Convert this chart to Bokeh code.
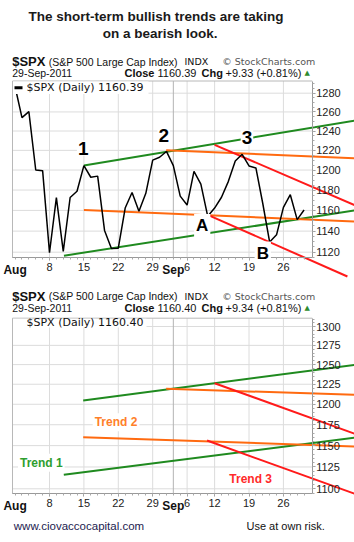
import math
from bokeh.plotting import figure
from bokeh.models import Range1d, LogScale, LinearAxis, FixedTicker, Label, AllLabels
from bokeh.core.properties import value
from bokeh.embed import file_html
from bokeh.resources import INLINE

# ---------------- data ----------------
day_index = list(range(43))  # trading days 1-Aug-2011 .. 29-Sep-2011
spx_close = [1286.94, 1254.05, 1260.34, 1200.07, 1199.38, 1119.46, 1172.53, 1120.76,
             1172.64, 1178.81, 1204.49, 1192.76, 1193.89, 1140.65, 1123.53, 1123.82,
             1162.35, 1177.60, 1159.27, 1176.80, 1210.08, 1212.92, 1218.89, 1204.42,
             1173.97, 1165.24, 1198.62, 1185.90, 1154.23, 1162.27, 1172.87, 1188.68,
             1209.11, 1216.01, 1204.09, 1202.09, 1166.76, 1129.56, 1136.43, 1162.95,
             1175.38, 1151.06, 1160.40]
day_tick_index = [5, 10, 15, 20, 25, 29, 34, 39]
day_tick_labels = ["8", "15", "22", "29", "6", "12", "19", "26"]
month_tick_index = [0, 23]
month_tick_labels = ["Aug", "Sep"]
grid_index = [5, 10, 15, 20, 23, 25, 29, 34, 39]
top_price_ticks = [1120, 1140, 1160, 1180, 1200, 1220, 1240, 1260, 1280]
bottom_price_ticks = [1100, 1125, 1150, 1175, 1200, 1225, 1250, 1275, 1300]

GREEN, ORANGE, RED = "#1f8a1f", "#ff6a10", "#ff1a1a"
top_trend_x0 = [10.0, 7.1, 21.96, 10.0, 29.0, 28.0]
top_trend_y0 = [1204.5, 1116.7, 1220.0, 1160.5, 1225.7, 1155.7]
top_trend_x1 = [49.4, 49.4, 49.4, 49.4, 49.4, 48.3]
top_trend_y1 = [1251.0, 1160.0, 1212.0, 1149.2, 1165.0, 1097.4]
bottom_trend_x0 = [9.9, 7.08, 21.96, 9.9, 29.0, 27.9]
bottom_trend_y0 = [1204.7, 1116.0, 1219.3, 1160.0, 1226.3, 1156.0]
bottom_trend_x1 = [49.4, 49.4, 49.4, 49.4, 49.4, 49.4]
bottom_trend_y1 = [1249.8, 1159.4, 1211.7, 1149.0, 1164.0, 1094.3]
trend_colors = [GREEN, GREEN, ORANGE, ORANGE, RED, RED]

wave_labels = ["1", "2", "3"]
wave_x = [9.9, 21.6, 33.7]
wave_y = [1222.3, 1235.3, 1232.9]
point_labels = ["A", "B"]
point_x = [27.2, 36.0]
point_y = [1145.4, 1119.2]
trend_labels = ["Trend 1", "Trend 2", "Trend 3"]
trend_label_x = [3.81, 14.67, 34.24]
trend_label_y = [1129.8, 1178.1, 1111.4]
trend_label_colors = ["#2f9e2f", "#ff7f2a", "#ff2a2a"]

# ---------------- layout ----------------
W, H = 354, 542
X0_PX, DX_PX = 14.6, 6.88


def ix(px):
    return (px - X0_PX) / DX_PX


TOP_REF_V, TOP_REF_PX, TOP_K = 1280.0, 92.7, 1190.7
BOT_REF_V, BOT_REF_PX, BOT_K = 1300.0, 326.0, 971.6
TOP_FRAME, TOP_AXIS = 80.5, 257.3
BOT_FRAME, BOT_AXIS = 317.7, 493.3
X_LEFT = ix(12.0)
X_AXIS = ix(311.7)


def val_at(px, ref_v, ref_px, k):
    return ref_v * math.exp(-(px - ref_px) / k)


p = figure(width=W, height=H, output_backend="svg", toolbar_location=None,
           x_range=Range1d(ix(0), ix(W)), y_range=Range1d(H, 0),
           x_axis_type=None, y_axis_type=None, min_border=0)
p.min_border_left = p.min_border_right = p.min_border_top = p.min_border_bottom = 0
p.outline_line_color = None
p.background_fill_color = "white"
p.border_fill_color = "white"
p.extra_y_ranges = {
    "top": Range1d(val_at(H, TOP_REF_V, TOP_REF_PX, TOP_K), val_at(0, TOP_REF_V, TOP_REF_PX, TOP_K)),
    "bot": Range1d(val_at(H, BOT_REF_V, BOT_REF_PX, BOT_K), val_at(0, BOT_REF_V, BOT_REF_PX, BOT_K)),
}
p.extra_y_scales = {"top": LogScale(), "bot": LogScale()}

GRID = "#dcdcdc"
GRID_DARK = "#b4b4b4"
BORDER = "#b8b8b8"


def txt(x_px, y_px, s, size, color="#111111", bold=False, align="left", font="Liberation Sans"):
    p.text(x=[ix(x_px)], y=[y_px], text=[s], text_font=value(font),
           text_font_size=f"{size}px", text_font_style="bold" if bold else "normal",
           text_color=color, text_align=align, text_baseline="middle")


def panel(rname, ref, frame_top, axis_px, ticks, minor, trend, close_txt, chg_txt, head_y):
    ref_v, ref_px, k = ref
    n = len(grid_index)
    gcols = [GRID_DARK if g in month_tick_index else GRID for g in grid_index]
    # horizontal grid
    p.segment(x0=[X_LEFT] * len(ticks), x1=[X_AXIS] * len(ticks), y0=ticks, y1=ticks,
              y_range_name=rname, line_color=GRID, line_width=1)
    # vertical grid
    p.segment(x0=grid_index, x1=grid_index, y0=[frame_top] * n, y1=[axis_px] * n,
              line_color=gcols, line_width=1)
    # frame left/top
    p.segment(x0=[X_LEFT, X_LEFT], x1=[X_LEFT, X_AXIS], y0=[frame_top, frame_top],
              y1=[axis_px, frame_top], line_color=BORDER, line_width=1)

    # axes
    lo, hi = val_at(axis_px, ref_v, ref_px, k), val_at(frame_top, ref_v, ref_px, k)
    yax = LinearAxis(y_range_name=rname, fixed_location=X_AXIS,
                     ticker=FixedTicker(ticks=ticks, minor_ticks=minor), bounds=(lo, hi),
                     major_label_policy=AllLabels())
    yax.axis_line_color = "#999999"
    yax.major_tick_in, yax.major_tick_out = 0, 3
    yax.minor_tick_in, yax.minor_tick_out = 0, 2
    yax.major_tick_line_color = "#999999"
    yax.minor_tick_line_color = "#aaaaaa"
    yax.major_label_standoff = 1
    yax.major_label_text_font = "Liberation Sans"
    yax.major_label_text_font_size = "11px"
    yax.major_label_text_color = "#222222"
    p.add_layout(yax, "right")

    xax = LinearAxis(fixed_location=axis_px,
                     ticker=FixedTicker(ticks=day_tick_index, minor_ticks=day_index),
                     bounds=(X_LEFT, X_AXIS), major_label_policy=AllLabels())
    xax.major_label_overrides = {t: l for t, l in zip(day_tick_index, day_tick_labels)}
    xax.axis_line_color = "#999999"
    xax.major_tick_in, xax.major_tick_out = 0, 3
    xax.minor_tick_in, xax.minor_tick_out = 0, 2
    xax.major_tick_line_color = "#999999"
    xax.minor_tick_line_color = "#aaaaaa"
    xax.major_label_standoff = 2
    xax.major_label_text_font = "Liberation Sans"
    xax.major_label_text_font_size = "11px"
    xax.major_label_text_color = "#222222"
    p.add_layout(xax, "below")

    max_ = LinearAxis(fixed_location=axis_px, ticker=FixedTicker(ticks=month_tick_index, minor_ticks=[]),
                      major_label_policy=AllLabels())
    max_.major_label_overrides = {t: l for t, l in zip(month_tick_index, month_tick_labels)}
    max_.axis_line_color = None
    max_.major_tick_line_color = None
    max_.minor_tick_line_color = None
    max_.major_tick_in, max_.major_tick_out = 0, 3
    max_.major_label_standoff = 2
    max_.major_label_text_font = "Liberation Sans"
    max_.major_label_text_font_size = "12px"
    max_.major_label_text_font_style = "bold"
    max_.major_label_text_color = "#111111"
    p.add_layout(max_, "below")

    # header
    y1, y2 = head_y, head_y + 11.7
    txt(11.7, y1, "$SPX", 13, bold=True)
    txt(48.3, y1, "(S&P 500 Large Cap Index)", 10.5)
    txt(184, y1, "INDX", 9.5, font="DejaVu Sans")
    txt(221.7, y1, "\u00a9 StockCharts.com", 9.5, color="#555555", font="DejaVu Sans")
    txt(11.7, y2, "29-Sep-2011", 10.5)
    txt(124, y2, "Close", 11, bold=True)
    txt(157, y2, close_txt, 11)
    txt(201, y2, "Chg", 11, bold=True)
    txt(225, y2, chg_txt, 11)
    txt(306.7, y2, "\u25b2", 7, color="#2e8b2e", align="center", font="DejaVu Sans")

    # trend lines
    tx0, ty0, tx1, ty1 = trend
    p.segment(x0=tx0, y0=ty0, x1=tx1, y1=ty1, y_range_name=rname,
              line_color=trend_colors, line_width=2)


# title
txt(155.5, 15.7, "The short-term bullish trends are taking", 13.5, color="#1a1a1a", bold=True, align="center")
txt(159.7, 33.3, "on a bearish look.", 13.5, color="#1a1a1a", bold=True, align="center")

# ---- top panel ----
panel("top", (TOP_REF_V, TOP_REF_PX, TOP_K), TOP_FRAME, TOP_AXIS, top_price_ticks,
      list(range(1115, 1295, 5)), (top_trend_x0, top_trend_y0, top_trend_x1, top_trend_y1),
      "1160.39", "+9.33 (+0.81%)", 61.0)
p.line(day_index, spx_close, y_range_name="top", line_color="black", line_width=1.5)
p.quad(left=ix(12.5), right=ix(148), top=TOP_FRAME + 0.6, bottom=93.5,
       fill_color="white", line_color=None)
p.segment(x0=[ix(14)], x1=[ix(22)], y0=[87.3], y1=[87.3], line_color="black", line_width=3)
txt(26, 87.3, "$SPX (Daily) 1160.39", 11, font="DejaVu Sans")

for s, x, y in zip(wave_labels, wave_x, wave_y):
    p.add_layout(Label(x=x, y=y, y_range_name="top", text=s, text_font="Liberation Sans",
                       text_font_size="19px", text_font_style="bold", text_color="black",
                       text_align="center", text_baseline="middle",
                       background_fill_color="white", padding=1))
for s, x, y in zip(point_labels, point_x, point_y):
    p.add_layout(Label(x=x, y=y, y_range_name="top", text=s, text_font="Liberation Sans",
                       text_font_size="17px", text_font_style="bold", text_color="black",
                       text_align="center", text_baseline="middle",
                       background_fill_color="white", padding=2))

# ---- bottom panel ----
panel("bot", (BOT_REF_V, BOT_REF_PX, BOT_K), BOT_FRAME, BOT_AXIS, bottom_price_ticks,
      list(range(1095, 1315, 5)), (bottom_trend_x0, bottom_trend_y0, bottom_trend_x1, bottom_trend_y1),
      "1160.40", "+9.34 (+0.81%)", 295.7)
p.quad(left=ix(12.5), right=ix(146), top=BOT_FRAME + 0.6, bottom=327,
       fill_color="white", line_color=None)
txt(26, 321.7, "$SPX (Daily) 1160.40", 11, font="DejaVu Sans")

for s, x, y, c in zip(trend_labels, trend_label_x, trend_label_y, trend_label_colors):
    p.add_layout(Label(x=x, y=y, y_range_name="bot", text=s, text_font="Liberation Sans",
                       text_font_size="12px", text_font_style="bold", text_color=c,
                       text_align="center", text_baseline="middle",
                       background_fill_color="white", padding=2))

# footer
txt(13.3, 525, "www.ciovaccocapital.com", 11.5, color="#1c1c50")
txt(246, 525, "Use at own risk.", 11, color="#111111")

open("out.html", "w").write(file_html(p, INLINE))
